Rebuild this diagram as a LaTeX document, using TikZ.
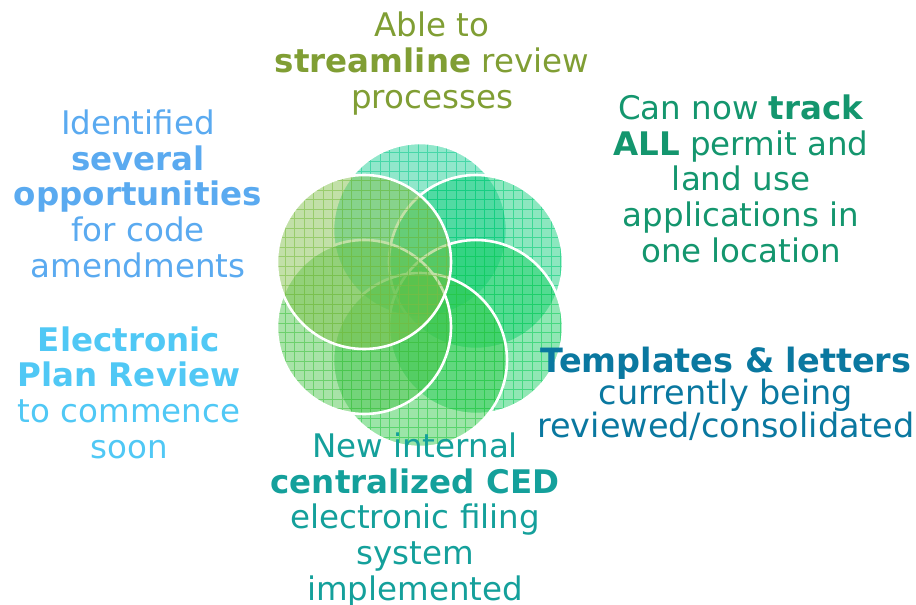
\documentclass[tikz,border=0pt]{standalone}
\usepackage{fontspec}
\setmainfont{DejaVu Sans}
\definecolor{c1}{RGB}{22,204,144}
\definecolor{c2}{RGB}{10,205,120}
\definecolor{c3}{RGB}{20,205,95}
\definecolor{c4}{RGB}{45,200,70}
\definecolor{c5}{RGB}{70,195,70}
\definecolor{c6}{RGB}{125,190,70}
\definecolor{tOlive}{RGB}{128,158,52}
\definecolor{tBlue}{RGB}{90,170,240}
\definecolor{tCyan}{RGB}{80,200,245}
\definecolor{tGreen}{RGB}{20,150,110}
\definecolor{tDeep}{RGB}{10,120,160}
\definecolor{tTeal}{RGB}{20,160,155}
\tikzset{
  lbl/.style={align=center, inner sep=0pt, anchor=base, font=\fontsize{32.5}{35.6}\selectfont},
  ring/.style={white, line width=2.6pt},
}
\begin{document}
\begin{tikzpicture}[x=1pt,y=-1pt]
\useasboundingbox (0,0) rectangle (916,605);
\foreach \cx/\cy/\col in {420/230/c1, 476/262/c2, 476/327/c3, 420/360/c4, 364/327/c5, 364/262/c6} {
  \begin{scope}
    \clip (\cx,\cy) circle (87pt);
    \fill[\col, fill opacity=0.47] (\cx,\cy) circle (87pt);
    \draw[\col, opacity=0.6, line width=0.8pt, step=9.5pt] (\cx-95,\cy-95) grid (\cx+95,\cy+95);
  \end{scope}
  \draw[ring] (\cx,\cy) circle (87pt);
}
\node[lbl, text=tOlive] (top) at (432,108) {Able to\\\textbf{streamline} review\\processes};
\node[lbl, text=tBlue] (lefttop) at (138,277) {Identified\\\textbf{several}\\\textbf{opportunities}\\for code\\amendments};
\node[lbl, text=tGreen] (righttop) at (741,262) {Can now \textbf{track}\\\textbf{ALL} permit and\\land use\\applications in\\one location};
\node[lbl, text=tDeep, font=\fontsize{33.5}{32.5}\selectfont] (rightbot) at (726,437) {\textbf{Templates \& letters}\\currently being\\reviewed/consolidated};
\node[lbl, text=tCyan] (leftbot) at (129,458) {\textbf{Electronic}\\\textbf{Plan Review}\\to commence\\soon};
\node[lbl, text=tTeal] (bottom) at (415,600) {New internal\\\textbf{centralized CED}\\electronic filing\\system\\implemented};
\end{tikzpicture}
\end{document}
